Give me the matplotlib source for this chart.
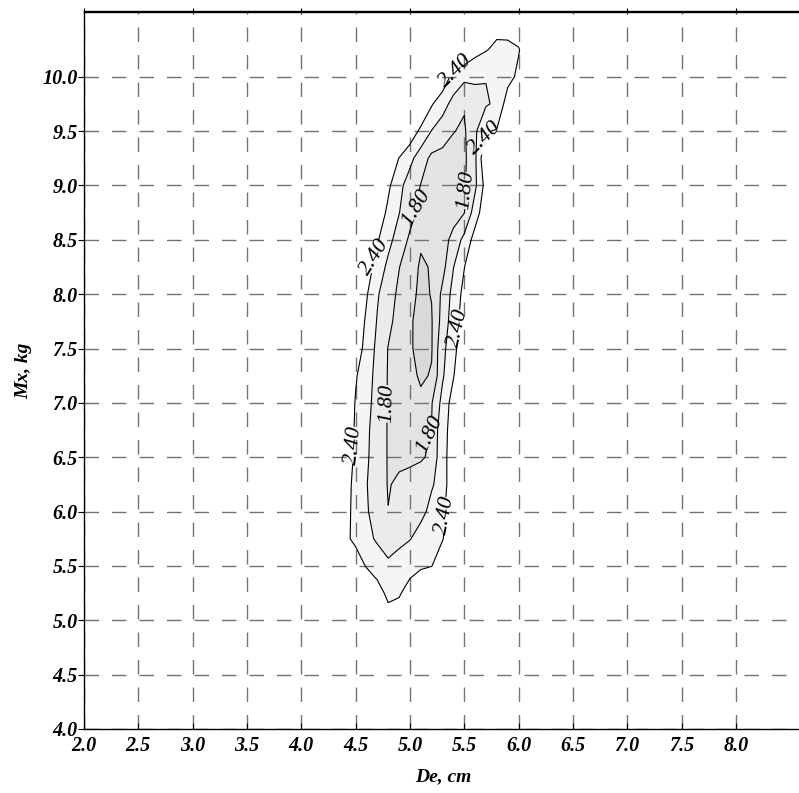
import numpy as np
import matplotlib
matplotlib.use("Agg")
import matplotlib.pyplot as plt

# ---- data -------------------------------------------------------------
de_cm = [4.3, 4.4, 4.5, 4.6, 4.7, 4.8, 4.9, 5.0, 5.1, 5.2,
         5.3, 5.4, 5.5, 5.6, 5.7, 5.8, 5.9, 6.0, 6.1, 6.2]
mx_kg = [5.0, 5.25, 5.5, 5.75, 6.0, 6.25, 6.5, 6.75, 7.0, 7.25, 7.5, 7.75,
         8.0, 8.25, 8.5, 8.75, 9.0, 9.25, 9.5, 9.75, 10.0, 10.25, 10.5]

z_5_00 = [3.0, 3.0, 3.0, 3.0, 2.75, 2.53, 2.60, 2.80, 3.0, 3.0, 3.0, 3.0, 3.0, 3.0, 3.0, 3.0, 3.0, 3.0, 3.0, 3.0]
z_5_25 = [3.0, 3.0, 3.0, 2.82, 2.52, 2.33, 2.36, 2.55, 2.85, 3.0, 3.0, 3.0, 3.0, 3.0, 3.0, 3.0, 3.0, 3.0, 3.0, 3.0]
z_5_50 = [3.0, 2.92, 2.62, 2.37, 2.27, 2.16, 2.22, 2.27, 2.33, 2.39, 2.64, 2.94, 3.0, 3.0, 3.0, 3.0, 3.0, 3.0, 3.0, 3.0]
z_5_75 = [2.79, 2.49, 2.31, 2.18, 2.06, 1.95, 2.03, 2.09, 2.19, 2.29, 2.38, 2.64, 2.94, 3.0, 3.0, 3.0, 3.0, 3.0, 3.0, 3.0]
z_6_00 = [2.82, 2.52, 2.30, 2.13, 1.97, 1.806, 1.89, 1.96, 2.04, 2.16, 2.34, 2.61, 2.91, 3.0, 3.0, 3.0, 3.0, 3.0, 3.0, 3.0]
z_6_25 = [2.90, 2.55, 2.30, 2.11, 1.98, 1.78, 1.85, 1.92, 2.00, 2.08, 2.18, 2.73, 3.0, 3.0, 3.0, 3.0, 3.0, 3.0, 3.0, 3.0]
z_6_50 = [2.91, 2.61, 2.34, 2.14, 1.96, 1.78, 1.74, 1.73, 1.76, 1.86, 2.34, 2.49, 2.79, 3.0, 3.0, 3.0, 3.0, 3.0, 3.0, 3.0]
z_6_75 = [2.94, 2.64, 2.36, 2.16, 1.95, 1.78, 1.72, 1.70, 1.73, 1.81, 2.34, 2.47, 2.77, 3.0, 3.0, 3.0, 3.0, 3.0, 3.0, 3.0]
z_7_00 = [2.97, 2.67, 2.38, 2.19, 1.99, 1.78, 1.70, 1.64, 1.56, 1.78, 2.20, 2.53, 2.83, 3.0, 3.0, 3.0, 3.0, 3.0, 3.0, 3.0]
z_7_25 = [3.0, 2.73, 2.43, 2.22, 2.01, 1.78, 1.68, 1.58, 1.46, 1.52, 2.06, 2.38, 2.70, 3.0, 3.0, 3.0, 3.0, 3.0, 3.0, 3.0]
z_7_50 = [3.0, 2.88, 2.58, 2.29, 2.03, 1.79, 1.66, 1.53, 1.42, 1.48, 2.05, 2.22, 2.82, 3.0, 3.0, 3.0, 3.0, 3.0, 3.0, 3.0]
z_7_75 = [3.0, 2.94, 2.64, 2.35, 2.08, 1.87, 1.70, 1.53, 1.42, 1.48, 1.92, 2.25, 2.55, 2.85, 3.0, 3.0, 3.0, 3.0, 3.0, 3.0]
z_8_00 = [3.0, 3.0, 2.73, 2.43, 2.13, 1.93, 1.74, 1.57, 1.45, 1.51, 1.87, 2.20, 2.49, 2.79, 3.0, 3.0, 3.0, 3.0, 3.0, 3.0]
z_8_25 = [3.0, 3.0, 2.85, 2.55, 2.28, 2.03, 1.81, 1.64, 1.46, 1.52, 1.70, 2.09, 2.39, 2.70, 3.0, 3.0, 3.0, 3.0, 3.0, 3.0]
z_8_50 = [3.0, 3.0, 3.0, 2.73, 2.43, 2.19, 1.97, 1.75, 1.54, 1.56, 1.68, 1.89, 2.19, 2.52, 2.82, 3.0, 3.0, 3.0, 3.0, 3.0]
z_8_75 = [3.0, 3.0, 3.0, 2.91, 2.61, 2.33, 2.11, 1.90, 1.72, 1.65, 1.62, 1.68, 1.79, 2.26, 2.60, 2.90, 3.0, 3.0, 3.0, 3.0]
z_9_00 = [3.0, 3.0, 3.0, 3.0, 2.76, 2.46, 2.18, 1.97, 1.79, 1.72, 1.68, 1.70, 1.76, 2.04, 2.52, 2.82, 3.0, 3.0, 3.0, 3.0]
z_9_25 = [3.0, 3.0, 3.0, 3.0, 2.98, 2.68, 2.39, 2.18, 1.95, 1.73, 1.70, 1.70, 1.74, 2.05, 2.69, 3.0, 3.0, 3.0, 3.0, 3.0]
z_9_50 = [3.0, 3.0, 3.0, 3.0, 3.0, 3.0, 2.91, 2.61, 2.33, 2.09, 1.96, 1.81, 1.76, 2.05, 2.38, 2.42, 2.85, 3.0, 3.0, 3.0]
z_9_75 = [3.0, 3.0, 3.0, 3.0, 3.0, 3.0, 3.0, 3.0, 2.73, 2.43, 2.21, 2.01, 1.83, 1.95, 2.07, 2.15, 2.55, 2.85, 3.0, 3.0]
z_10_00 = [3.0, 3.0, 3.0, 3.0, 3.0, 3.0, 3.0, 3.0, 3.0, 2.93, 2.63, 2.29, 2.17, 2.16, 2.11, 2.14, 2.30, 2.46, 2.76, 3.0]
z_10_25 = [3.0, 3.0, 3.0, 3.0, 3.0, 3.0, 3.0, 3.0, 3.0, 3.0, 3.0, 3.0, 2.70, 2.50, 2.42, 2.33, 2.32, 2.38, 2.58, 2.88]
z_10_50 = [3.0, 3.0, 3.0, 3.0, 3.0, 3.0, 3.0, 3.0, 3.0, 3.0, 3.0, 3.0, 3.0, 3.0, 2.70, 2.52, 2.55, 2.60, 2.80, 3.0]

z_rows = [z_5_00, z_5_25, z_5_50, z_5_75, z_6_00, z_6_25, z_6_50, z_6_75,
          z_7_00, z_7_25, z_7_50, z_7_75, z_8_00, z_8_25, z_8_50, z_8_75,
          z_9_00, z_9_25, z_9_50, z_9_75, z_10_00, z_10_25, z_10_50]

fill_levels = [1.0, 1.5, 1.8, 2.1, 2.4]
fill_colors = ["#d9d9d9", "#e3e3e3", "#ebebeb", "#f5f5f5"]
plain_levels = [1.5, 2.1]
label_levels = [1.8, 2.4]
label_positions = [(5.42, 10.03), (5.717, 9.39), (4.66, 8.37), (5.46, 7.68),
                   (4.475, 6.61), (5.35, 5.95),
                   (5.06, 8.80), (5.52, 8.95), (4.797, 6.99), (5.20, 6.68)]

x_ticks = [2.0, 2.5, 3.0, 3.5, 4.0, 4.5, 5.0, 5.5, 6.0, 6.5, 7.0, 7.5, 8.0]
y_ticks = [4.0, 4.5, 5.0, 5.5, 6.0, 6.5, 7.0, 7.5, 8.0, 8.5, 9.0, 9.5, 10.0]
top_ticks = [2.0, 3.0, 4.0, 5.0, 6.0, 7.0, 8.0]
x_label = "De, cm"
y_label = "Mx, kg"

# ---- figure -----------------------------------------------------------
plt.rcParams["font.family"] = ["Liberation Serif", "DejaVu Serif"]
plt.rcParams["font.style"] = "italic"

fig = plt.figure(figsize=(7.99, 7.93), dpi=100)
ax = fig.add_axes([84 / 799, 64 / 793, 717 / 799, 717.5 / 793])
ax.set_axisbelow("line")

X = np.array(de_cm)
Y = np.array(mx_kg)
Z = np.array(z_rows)

ax.contourf(X, Y, Z, levels=fill_levels, colors=fill_colors, zorder=1)
ax.contour(X, Y, Z, levels=plain_levels, colors="black",
           linewidths=0.8, zorder=2)
cs = ax.contour(X, Y, Z, levels=label_levels, colors="black",
                linewidths=0.8, zorder=2)
texts = ax.clabel(cs, manual=label_positions, inline=True,
                  fmt="%.2f", fontsize=16, inline_spacing=3)
# the top label follows the steeper edge of the cap in the original
if len(texts) > 0:
    texts[0].set_rotation(45)

ax.set_xlim(2.0, 8.6)
ax.set_ylim(4.0, 10.6)
ax.set_xticks(x_ticks)
ax.set_xticklabels([f"{v:.1f}" for v in x_ticks], fontweight="bold",
                   fontsize=14.5)
ax.set_yticks(y_ticks)
ax.set_yticklabels([f"{v:.1f}" for v in y_ticks], fontweight="bold",
                   fontsize=14.5)
ax.tick_params(axis="x", direction="in", length=4, pad=4.7, colors="black")
ax.tick_params(axis="y", direction="out", length=4, pad=0.5, colors="black")

ax.grid(True, color="#737373", linewidth=1.0,
        linestyle=(0, (10.44, 9.36)))

ax.spines["right"].set_visible(False)
for s in ("left", "bottom", "top"):
    ax.spines[s].set_linewidth(1.0)

sec = ax.secondary_xaxis("top")
sec.set_xticks(top_ticks)
sec.tick_params(direction="inout", length=4, labeltop=False)
sec.spines["top"].set_linewidth(1.0)

fig.text(443 / 799, 1 - 777 / 793, x_label, ha="center", va="center",
         fontsize=14, fontweight="bold", fontstyle="italic")
fig.text(24 / 799, 1 - 371 / 793, y_label, ha="center", va="center",
         rotation=90, fontsize=14, fontweight="bold", fontstyle="italic")

fig.savefig("out.png", dpi=100)
